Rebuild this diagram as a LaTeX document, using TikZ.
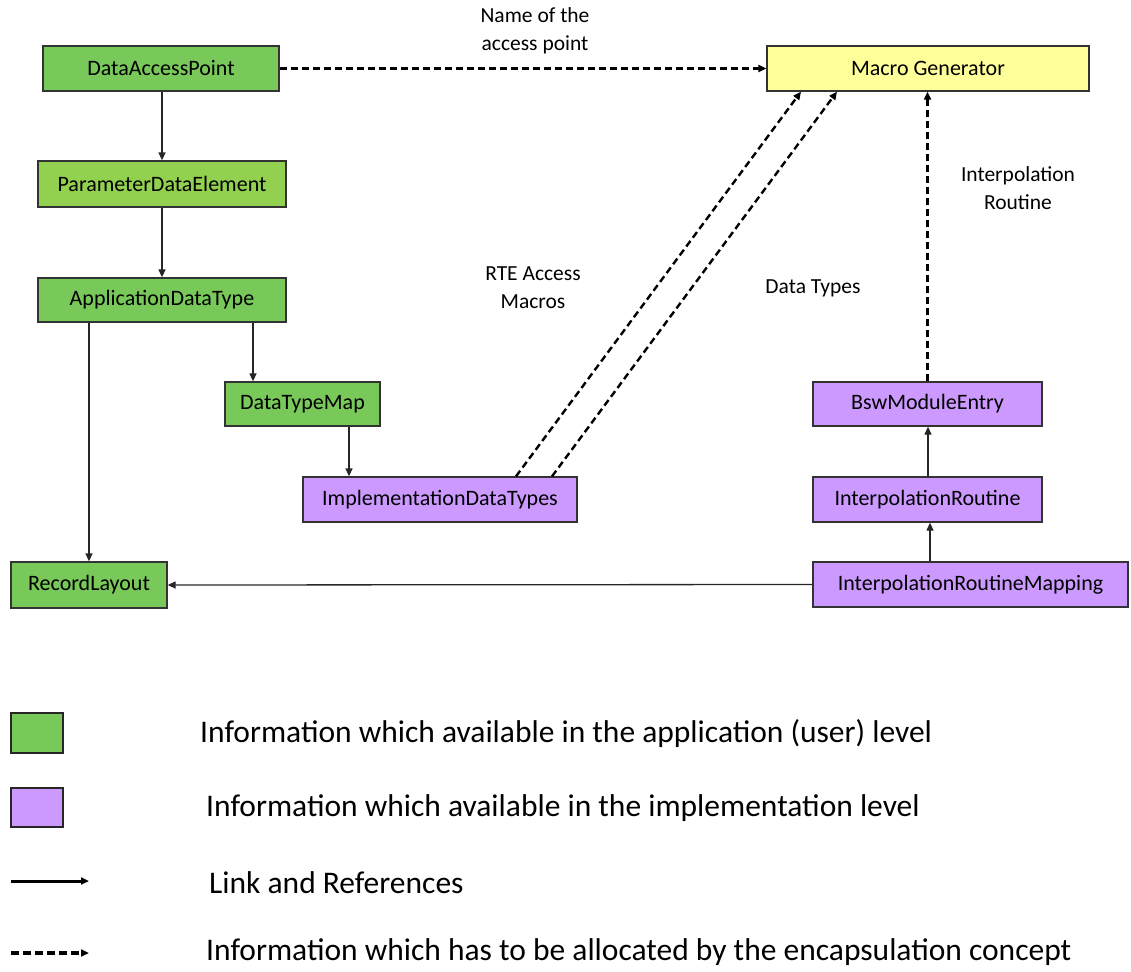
\documentclass[tikz,border=0pt]{standalone}
\usepackage{fontspec}
\setmainfont{Carlito}
\usetikzlibrary{arrows.meta}

\definecolor{appgreen}{RGB}{120,200,90}
\definecolor{lightgreen}{RGB}{146,208,80}
\definecolor{macroyellow}{RGB}{255,255,153}
\definecolor{implpurple}{RGB}{204,153,255}

\begin{document}
\begin{tikzpicture}[x=1pt,y=-1pt,
    >={Triangle[length=8pt,width=7pt]},
    box/.style={draw=black!80,line width=1.3pt,inner sep=0pt,
        font=\fontsize{22}{26}\selectfont},
    lbl/.style={align=center,font=\fontsize{21.5}{28}\selectfont},
    legend/.style={anchor=west,inner sep=0pt,font=\fontsize{31.5}{36}\selectfont},
    link/.style={->,line width=1.3pt,black!85},
    alloc/.style={->,line width=2.4pt,dash pattern=on 7pt off 4pt}]
    \useasboundingbox (0,0) rectangle (1131,971);

    \node[box,fill=appgreen,minimum width=236pt,minimum height=45pt] (dap) at (161,68.5) {DataAccessPoint};
    \node[box,fill=lightgreen,minimum width=248pt,minimum height=46pt] (pde) at (162,184) {ParameterDataElement};
    \node[box,fill=appgreen,minimum width=248pt,minimum height=44pt] (adt) at (162,300) {ApplicationDataType};
    \node[box,fill=appgreen,minimum width=155pt,minimum height=44pt] (dtm) at (302.5,404) {DataTypeMap};
    \node[box,fill=implpurple,minimum width=274pt,minimum height=45pt] (idt) at (440,499.5) {ImplementationDataTypes};
    \node[box,fill=appgreen,minimum width=156pt,minimum height=46pt] (rl) at (89,585) {RecordLayout};
    \node[box,fill=macroyellow,minimum width=322pt,minimum height=45pt] (mg) at (928,68.5) {Macro Generator};
    \node[box,fill=implpurple,minimum width=229pt,minimum height=44pt] (bme) at (927.5,404) {BswModuleEntry};
    \node[box,fill=implpurple,minimum width=229pt,minimum height=45pt] (ir) at (927.5,499.5) {InterpolationRoutine};
    \node[box,fill=implpurple,minimum width=315pt,minimum height=45pt] (irm) at (970.5,584.5) {InterpolationRoutineMapping};

    \draw[link] (dap.south -| pde.north) -- (pde.north);
    \draw[link] (pde.south) -- (adt.north);
    \draw[link] (253,0 |- adt.south) -- (253,0 |- dtm.north);
    \draw[link] (rl.north |- adt.south) -- (rl.north);
    \draw[link] (349,0 |- dtm.south) -- (349,0 |- idt.north);
    \draw[link] (irm.west) -- (rl.east);
    \draw[link] (930,0 |- irm.north) -- (930,0 |- ir.south);
    \draw[link] (928,0 |- ir.north) -- (928,0 |- bme.south);

    \draw[alloc] (dap.east) -- (mg.west);
    \draw[alloc] (516,0 |- idt.north) -- (801,0 |- mg.south);
    \draw[alloc] (552,0 |- idt.north) -- (837,0 |- mg.south);
    \draw[alloc] (bme.north) -- (bme.north |- mg.south);

    \node[lbl] (nameap) at (535,31) {Name of the\\access point};
    \node[lbl] (rteam) at (533,288) {RTE Access\\Macros};
    \node[lbl] (dtypes) at (813,288) {Data Types};
    \node[lbl] (iproutine) at (1018,188) {Interpolation\\Routine};

    % legend
    \node[draw=black!85,line width=2pt,fill=appgreen,minimum width=52pt,minimum height=40pt,inner sep=0pt] (keyapp) at (37,733) {};
    \node[draw=black!85,line width=2pt,fill=implpurple,minimum width=52pt,minimum height=39pt,inner sep=0pt] (keyimpl) at (37,807.5) {};
    \coordinate (keylinka) at (11,881);
    \coordinate (keylinkb) at (89,881);
    \coordinate (keyalloca) at (11,953);
    \coordinate (keyallocb) at (89,953);
    \draw[->,line width=3pt] (keylinka) -- (keylinkb);
    \draw[->,line width=3.5pt,dash pattern=on 8pt off 4pt] (keyalloca) -- (keyallocb);

    \node[legend] (txtapp) at (200,734) {Information which available in the application (user) level};
    \node[legend] (txtimpl) at (206,808) {Information which available in the implementation level};
    \node[legend] (txtlink) at (209,883) {Link and References};
    \node[legend] (txtalloc) at (206,952) {Information which has to be allocated by the encapsulation concept};
\end{tikzpicture}
\end{document}
